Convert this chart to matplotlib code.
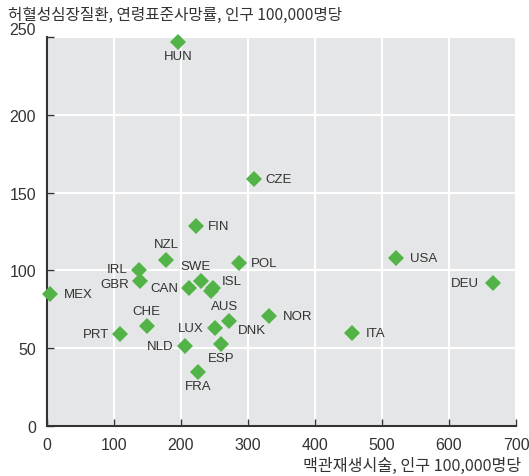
import matplotlib
matplotlib.use("Agg")
import matplotlib.pyplot as plt
from matplotlib import font_manager

# font: narrow latin for numbers/codes, CJK for Korean
names = {f.name for f in font_manager.fontManager.ttflist}
latin = "Liberation Sans Narrow" if "Liberation Sans Narrow" in names else "Liberation Sans"
plt.rcParams["font.family"] = [latin, "Noto Sans CJK KR", "DejaVu Sans"]

countries = ["HUN", "CZE", "FIN", "NZL", "IRL", "GBR", "MEX", "SWE", "ISL", "AUS",
             "CAN", "POL", "USA", "DEU", "NOR", "DNK", "LUX", "CHE", "PRT", "ITA",
             "ESP", "NLD", "FRA"]
revasc = [196, 309, 223, 178, 137, 139, 4, 230, 248, 245,
          212, 287, 521, 666, 331, 272, 250, 149, 109, 455,
          260, 206, 226]
ihd_mortality = [247, 159, 128.5, 107, 100, 93, 85, 93, 89, 86.5,
                 88.5, 105, 108, 92, 71, 67.5, 63, 64, 59, 60,
                 53, 51.5, 35]
# label placement: (dx, dy) in points, ha, va
label_pos = {
    "HUN": (0, -6, "center", "top"), "CZE": (8, 0, "left", "center"),
    "FIN": (8, 0, "left", "center"), "NZL": (0, 7, "center", "bottom"),
    "IRL": (-8, 1, "right", "center"), "GBR": (-8, -2, "right", "center"),
    "MEX": (10, 0, "left", "center"), "SWE": (-4, 7, "center", "bottom"),
    "ISL": (6, 5, "left", "center"), "AUS": (0, -6, "left", "top"),
    "CAN": (-8, 0, "right", "center"), "POL": (8, 0, "left", "center"),
    "USA": (10, 0, "left", "center"), "DEU": (-10, 0, "right", "center"),
    "NOR": (10, 0, "left", "center"), "DNK": (6, -2, "left", "top"),
    "LUX": (-8, 0, "right", "center"), "CHE": (0, 7, "center", "bottom"),
    "PRT": (-8, 0, "right", "center"), "ITA": (10, 0, "left", "center"),
    "ESP": (0, -6, "center", "top"), "NLD": (-8, 0, "right", "center"),
    "FRA": (0, -6, "center", "top"),
}

xticks = [0, 100, 200, 300, 400, 500, 600, 700]
yticks = [0, 50, 100, 150, 200, 250]

fig = plt.figure(figsize=(5.29, 4.77), dpi=100)
ax = fig.add_axes([47 / 529, 50 / 477, 469 / 529, 389 / 477])
ax.set_facecolor("#e5e6e7")

ax.plot(revasc, ihd_mortality, "D", color="#52b447", markersize=8.5,
        markeredgewidth=0, zorder=3, clip_on=False)
for c, x, y in zip(countries, revasc, ihd_mortality):
    dx, dy, ha, va = label_pos[c]
    ax.annotate(c, (x, y), xytext=(dx, dy), textcoords="offset points",
                ha=ha, va=va, fontsize=9.5, color="#333333")

ax.set_xlim(0, 700)
ax.set_ylim(0, 250)
ax.set_xticks(xticks)
ax.set_yticks(yticks)
ax.grid(True, color="white", linewidth=1.5)
ax.set_axisbelow(True)
for s in ["top", "right"]:
    ax.spines[s].set_visible(False)
for s in ["left", "bottom"]:
    ax.spines[s].set_color("#333333")
    ax.spines[s].set_linewidth(1.5)
ax.tick_params(direction="in", length=5, width=1, color="#333333",
               labelsize=11.5, labelcolor="#333333", pad=8)
ax.get_yticklabels()[-1].set_verticalalignment("bottom")

kor = ["Noto Sans CJK KR", "DejaVu Sans"]
fig.text(8 / 529, 1 - 15 / 477, "허혈성심장질환, 연령표준사망률, 인구 100,000명당",
         ha="left", va="center", fontsize=11.3, color="#333333", family=kor)
fig.text(521 / 529, 1 - 466 / 477, "맥관재생시술, 인구 100,000명당",
         ha="right", va="center", fontsize=11.6, color="#333333", family=kor)

fig.savefig("out.png", dpi=100)
